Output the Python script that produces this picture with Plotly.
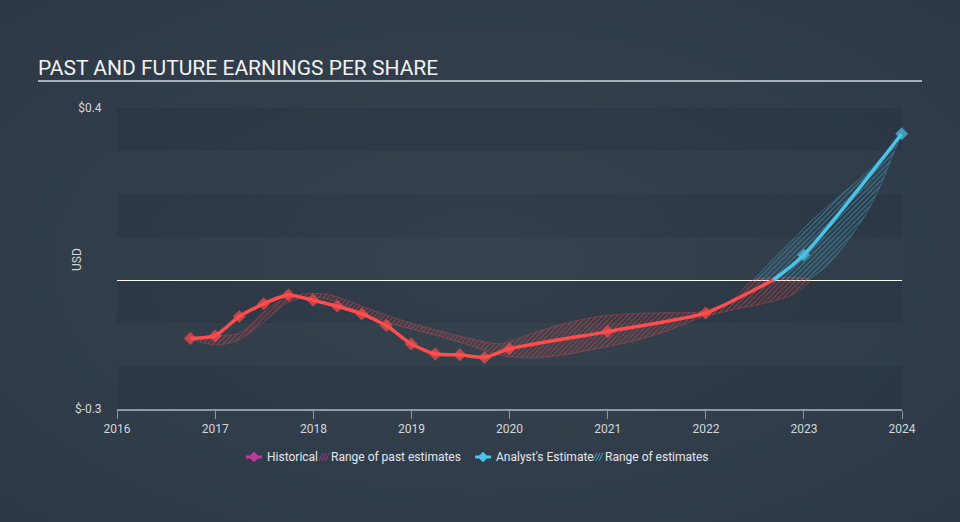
import base64
import plotly.graph_objects as go

# ---------------- data ----------------
hist_dates = ["2016-09-30", "2016-12-31", "2017-03-31", "2017-06-30", "2017-09-30",
              "2017-12-31", "2018-03-31", "2018-06-30", "2018-09-30", "2018-12-31",
              "2019-03-31", "2019-06-30", "2019-09-30", "2019-12-31", "2020-12-31",
              "2021-12-31", "2022-09-09"]
hist_eps = [-0.136, -0.130, -0.085, -0.055, -0.035,
            -0.047, -0.061, -0.079, -0.106, -0.149,
            -0.172, -0.174, -0.180, -0.160, -0.120,
            -0.077, 0.0]

est_dates = ["2022-09-09", "2022-12-31", "2023-12-31"]
est_eps = [0.0, 0.058, 0.340]

past_hi_dates = ["2016-09-30", "2016-12-31", "2017-04-03", "2017-07-11", "2017-09-24",
                 "2018-01-01", "2018-03-16", "2018-07-18", "2018-11-19", "2019-03-24",
                 "2019-07-25", "2019-11-26", "2020-03-29", "2020-08-01", "2020-12-03",
                 "2021-04-06", "2021-08-08", "2021-12-10", "2022-04-13", "2022-06-27"]
past_hi = [-0.136, -0.130, -0.123, -0.069, -0.041,
           -0.031, -0.036, -0.065, -0.092, -0.115,
           -0.134, -0.148, -0.123, -0.100, -0.084,
           -0.078, -0.076, -0.074, -0.045, 0.0]
past_lo_dates = ["2016-09-30", "2017-01-06", "2017-04-03", "2017-07-11", "2017-09-24",
                 "2018-01-01", "2018-03-16", "2018-07-18", "2018-11-19", "2019-03-24",
                 "2019-07-25", "2019-11-26", "2020-03-29", "2020-08-01", "2020-12-03",
                 "2021-04-06", "2021-08-08", "2021-12-10", "2022-04-13", "2022-08-15",
                 "2022-11-22", "2023-01-23"]
past_lo = [-0.136, -0.152, -0.138, -0.092, -0.053,
           -0.039, -0.049, -0.080, -0.107, -0.127,
           -0.150, -0.175, -0.181, -0.173, -0.158,
           -0.142, -0.119, -0.088, -0.069, -0.053,
           -0.034, 0.0]

fut_hi_dates = ["2022-06-27", "2022-09-09", "2022-11-22", "2023-02-05", "2023-05-15",
                "2023-08-23", "2023-11-05", "2023-12-22", "2023-12-31"]
fut_hi = [0.0, 0.049, 0.095, 0.142, 0.196, 0.250, 0.297, 0.332, 0.340]
fut_lo_dates = ["2023-01-17", "2023-03-27", "2023-06-09", "2023-08-23", "2023-10-12",
                "2023-11-17", "2023-12-24", "2023-12-31"]
fut_lo = [0.0, 0.033, 0.087, 0.157, 0.218, 0.274, 0.328, 0.340]

x_tick_vals = ["2016-01-01", "2017-01-01", "2018-01-01", "2019-01-01", "2020-01-01",
               "2021-01-01", "2022-01-01", "2023-01-01", "2024-01-01"]
x_tick_text = ["2016", "2017", "2018", "2019", "2020", "2021", "2022", "2023", "2024"]
y_tick_vals = [0.4, -0.3]
y_tick_text = ["$0.4", "$-0.3"]
band_ranges = [(0.3, 0.4), (0.1, 0.2), (-0.1, 0.0), (-0.3, -0.2)]
legend_labels = ["Historical", "Range of past estimates", "Analyst's Estimate", "Range of estimates"]

# ---------------- style ----------------
RED = "#ff4c4c"
BLUE = "#4cc3e8"
MAGENTA = "#c2389c"
BG = "#334050"
BAND = "rgba(18,26,38,0.13)"
TXT = "#d4d8dc"
FONT = "Roboto"

W, H = 960, 522
L, R, T, B = 117, 58, 108, 113
PW, PH = W - L - R, H - T - B


def px_x(px):
    return (px - L) / PW


def px_y(py):
    return (H - B - py) / PH


fig = go.Figure()

# past range band (hatched)
fig.add_trace(go.Scatter(
    x=past_hi_dates + past_lo_dates[::-1], y=past_hi + past_lo[::-1],
    mode="lines", fill="toself", fillcolor="rgba(0,0,0,0)",
    fillpattern=dict(shape="/", fgcolor="rgba(255,76,76,0.9)", bgcolor="rgba(0,0,0,0)",
                     size=3.5, solidity=0.35),
    line=dict(color="rgba(255,76,76,0.5)", width=0.6, shape="spline", smoothing=0.7),
    showlegend=False, hoverinfo="skip"))

# future range band (hatched)
fig.add_trace(go.Scatter(
    x=fut_hi_dates + fut_lo_dates[::-1], y=fut_hi + fut_lo[::-1],
    mode="lines", fill="toself", fillcolor="rgba(0,0,0,0)",
    fillpattern=dict(shape="/", fgcolor="rgba(76,195,232,0.9)", bgcolor="rgba(0,0,0,0)",
                     size=3.5, solidity=0.35),
    line=dict(color="rgba(76,195,232,0.5)", width=0.6, shape="spline", smoothing=0.7),
    showlegend=False, hoverinfo="skip"))

# historical line
n_hist = len(hist_dates)
fig.add_trace(go.Scatter(
    x=hist_dates, y=hist_eps, mode="lines+markers",
    line=dict(color=RED, width=3.5, shape="spline", smoothing=0.5),
    marker=dict(symbol="diamond", size=[10] * (n_hist - 1) + [0], color=RED,
                line=dict(width=0)),
    showlegend=False))

# estimate line
fig.add_trace(go.Scatter(
    x=est_dates, y=est_eps, mode="lines+markers", cliponaxis=False,
    line=dict(color=BLUE, width=3.5, shape="spline", smoothing=0.8),
    marker=dict(symbol="diamond", size=[0, 10, 10], color=BLUE, line=dict(width=0)),
    showlegend=False))

# background bands
shapes = []
for lo, hi in band_ranges:
    shapes.append(dict(type="rect", xref="paper", yref="y", x0=0, x1=1, y0=lo, y1=hi,
                       fillcolor=BAND, line=dict(width=0), layer="below"))
# title underline
shapes.append(dict(type="line", xref="paper", yref="paper", x0=px_x(38), x1=px_x(922),
                   y0=px_y(81), y1=px_y(81), line=dict(color="#a7aeb6", width=2)))

# custom legend (glyphs + labels)
leg_y = px_y(457)
annotations = []


def diamond_icon(cx, color):
    shapes.append(dict(type="line", xref="paper", yref="paper", xsizemode="pixel",
                       ysizemode="pixel", xanchor=px_x(cx), yanchor=leg_y,
                       x0=-8, x1=8, y0=0, y1=0, line=dict(color=color, width=3)))
    shapes.append(dict(type="path", xref="paper", yref="paper", xsizemode="pixel",
                       ysizemode="pixel", xanchor=px_x(cx), yanchor=leg_y,
                       path="M -5 0 L 0 5 L 5 0 L 0 -5 Z", fillcolor=color,
                       line=dict(color=color, width=0.5)))


def hatch_icon(cx, color):
    shapes.append(dict(type="path", xref="paper", yref="paper", xsizemode="pixel",
                       ysizemode="pixel", xanchor=px_x(cx), yanchor=leg_y,
                       path="M -5 -4 L -1 4 M -2 -4 L 2 4 M 1 -4 L 5 4",
                       line=dict(color=color, width=1)))


def label(x_left, text):
    annotations.append(dict(text=text, xref="paper", yref="paper", x=px_x(x_left), y=leg_y,
                            xanchor="left", yanchor="middle", showarrow=False,
                            font=dict(size=12, color="#e4e7ea", family=FONT)))


diamond_icon(254, MAGENTA)
label(265, legend_labels[0])
hatch_icon(324, "rgba(194,56,156,0.8)")
label(329, legend_labels[1])
diamond_icon(483, BLUE)
label(494, legend_labels[2])
hatch_icon(598, "rgba(76,195,232,0.8)")
label(603, legend_labels[3])

annotations += [
    dict(text="PAST AND FUTURE EARNINGS PER SHARE", xref="paper", yref="paper",
         x=px_x(36), y=px_y(68), xanchor="left", yanchor="middle", showarrow=False,
         font=dict(size=21, color="#f2f2f2", family=FONT)),
    dict(text="USD", xref="paper", yref="paper", x=px_x(77), y=px_y(260), textangle=-90,
         xanchor="center", yanchor="middle", showarrow=False,
         font=dict(size=12, color=TXT, family=FONT)),
]

# soft radial background
svg = (f'<svg xmlns="http://www.w3.org/2000/svg" width="{W}" height="{H}">'
       '<defs><radialGradient id="g" cx="50%" cy="50%" r="70%">'
       '<stop offset="0%" stop-color="#37444f"/><stop offset="100%" stop-color="#2c3846"/>'
       '</radialGradient></defs><rect width="100%" height="100%" fill="url(#g)"/></svg>')
bg_src = "data:image/svg+xml;base64," + base64.b64encode(svg.encode()).decode()

fig.update_layout(
    width=W, height=H,
    margin=dict(l=L, r=R, t=T, b=B),
    paper_bgcolor=BG, plot_bgcolor="rgba(0,0,0,0)",
    font=dict(family=FONT, color=TXT, size=12),
    shapes=shapes,
    annotations=annotations,
    showlegend=False,
    images=[dict(source=bg_src, xref="paper", yref="paper", x=px_x(0), y=px_y(0),
                 sizex=W / PW, sizey=H / PH, sizing="stretch", xanchor="left",
                 yanchor="top", layer="below")],
    xaxis=dict(type="date", range=["2016-01-01", "2024-01-01"],
               tickvals=x_tick_vals, ticktext=x_tick_text,
               showgrid=False, zeroline=False, showline=True, linecolor="#8e9aa7",
               linewidth=1.5, ticks="outside", ticklen=8, tickcolor="#8e9aa7",
               tickwidth=1.2, tickfont=dict(size=12, color=TXT)),
    yaxis=dict(range=[-0.3, 0.4], tickvals=y_tick_vals, ticktext=y_tick_text,
               showgrid=False, zeroline=True, zerolinecolor="#ffffff", zerolinewidth=1.2,
               showline=False, ticks="outside", ticklen=12, tickcolor="rgba(0,0,0,0)",
               tickfont=dict(size=12, color=TXT)),
)

fig.write_html("out.html")
